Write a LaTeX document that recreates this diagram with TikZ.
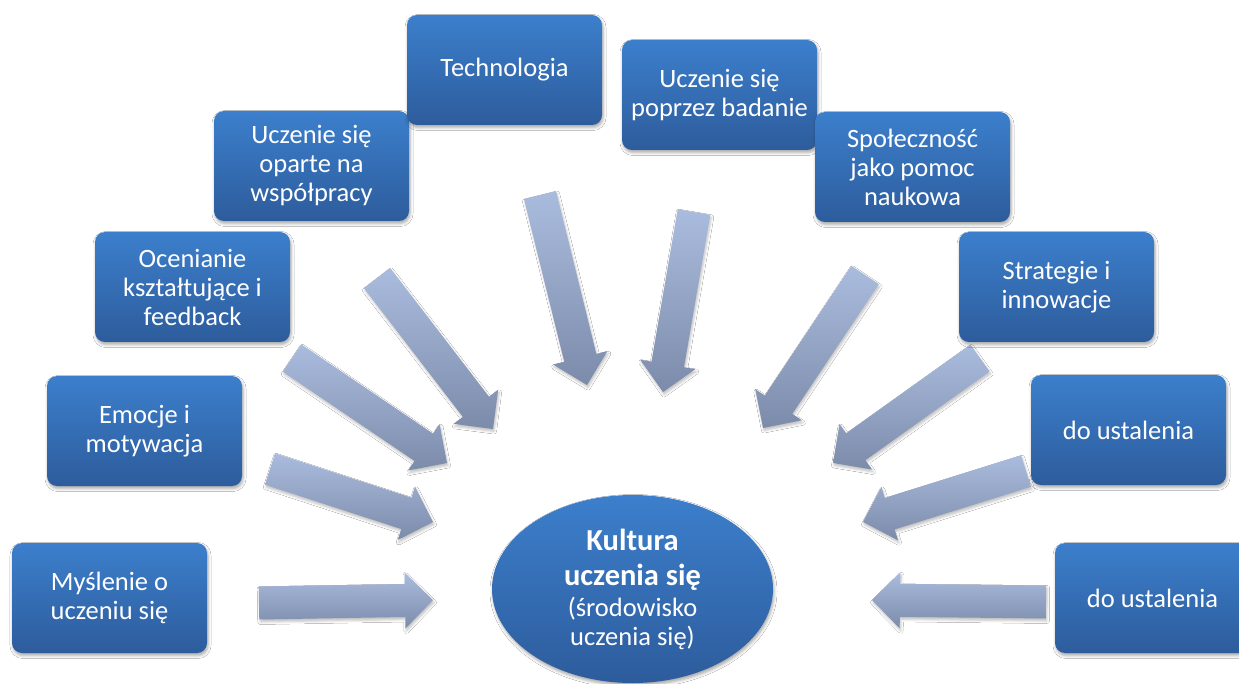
\documentclass[tikz,border=0pt]{standalone}
\usepackage{fontspec}
\setmainfont{Carlito}
\usetikzlibrary{calc,shadows.blur,shapes.geometric}
\definecolor{boxtop}{RGB}{60,127,204}
\definecolor{boxbot}{RGB}{45,92,156}
\definecolor{arrlight}{RGB}{170,188,222}
\definecolor{arrdark}{RGB}{124,139,170}
\tikzset{
  softshadow/.style={blur shadow={shadow xshift=1pt, shadow yshift=-2.5pt, shadow blur radius=3pt, shadow opacity=35}},
  topic/.style={rectangle, rounded corners=10pt, minimum width=195pt, minimum height=110pt,
    top color=boxtop, bottom color=boxbot, draw=none, text=white, align=center,
    font=\fontsize{26.5}{29}\selectfont, softshadow},
  core/.style={ellipse, minimum width=281pt, minimum height=188pt, inner sep=0pt,
    top color=boxtop, bottom color=boxbot, draw=none, text=white, align=center,
    font=\fontsize{30.5}{35}\selectfont, softshadow},
  blockarrow/.style={top color=arrlight, bottom color=arrdark, draw=none,
    blur shadow={shadow xshift=1pt, shadow yshift=-2.5pt, shadow blur radius=2.5pt, shadow opacity=25}},
}
\newcommand\bigarrow[2]{%
  \coordinate (#1h) at ($(#2)!28pt!(#1)$);
  \path[blockarrow]
    ($(#1)!16.5pt!90:(#2)$) -- ($(#1h)!16.5pt!90:(#2)$) -- ($(#1h)!28pt!90:(#2)$) -- (#2)
    -- ($(#1h)!28pt!-90:(#2)$) -- ($(#1h)!16.5pt!-90:(#2)$) -- ($(#1)!16.5pt!-90:(#2)$) -- cycle;
}
\newcommand\bigbold[1]{{\bfseries #1}}
\newcommand\smallreg[1]{{\fontsize{26.5}{29}\selectfont #1}}
\begin{document}
\begin{tikzpicture}[x=1pt,y=-1pt]
\useasboundingbox (0,0) rectangle (1239,684);
\fill[white] (0,0) rectangle (1239,684);
% arrow ends
\coordinate (t1) at (259,603);  \coordinate (p1) at (433,600);
\coordinate (t2) at (270,469);  \coordinate (p2) at (433,522);
\coordinate (t3) at (292,358);  \coordinate (p3) at (447,463);
\coordinate (t4) at (377,278);  \coordinate (p4) at (493,429);
\coordinate (t5) at (540,195);  \coordinate (p5) at (587,385);
\coordinate (t6) at (694,212);  \coordinate (p6) at (663,392);
\coordinate (t7) at (865,275);  \coordinate (p7) at (763,428);
\coordinate (t8) at (980,358);  \coordinate (p8) at (833,463);
\coordinate (t9) at (1026,471); \coordinate (p9) at (863,522);
\coordinate (t10) at (1046,602); \coordinate (p10) at (872,600);
\bigarrow{t1}{p1}
\bigarrow{t2}{p2}
\bigarrow{t3}{p3}
\bigarrow{t4}{p4}
\bigarrow{t5}{p5}
\bigarrow{t6}{p6}
\bigarrow{t7}{p7}
\bigarrow{t8}{p8}
\bigarrow{t9}{p9}
\bigarrow{t10}{p10}
% boxes
\node[topic] (b1) at (109.5,598) {Myślenie o\\uczeniu się};
\node[topic] (b2) at (144.5,431) {Emocje i\\motywacja};
\node[topic] (b3) at (192.5,287) {Ocenianie\\kształtujące i\\feedback};
\node[topic] (b4) at (311.5,166) {Uczenie się\\oparte na\\współpracy};
\node[topic] (b5) at (504.5,70) {Technologia};
\node[topic] (b6) at (719.5,95) {Uczenie się\\poprzez badanie};
\node[topic] (b7) at (912.5,167) {Społeczność\\jako pomoc\\naukowa};
\node[topic] (b8) at (1056.5,287) {Strategie i\\innowacje};
\node[topic] (b9) at (1128.5,430) {do ustalenia};
\node[topic] (b10) at (1152.5,598) {do ustalenia};
% centre
\node[core] (c) at (632.5,589) {\bigbold{Kultura}\\\bigbold{uczenia się}\\[-4pt]\smallreg{(środowisko}\\[-6pt]\smallreg{uczenia się)}};
\end{tikzpicture}
\end{document}
